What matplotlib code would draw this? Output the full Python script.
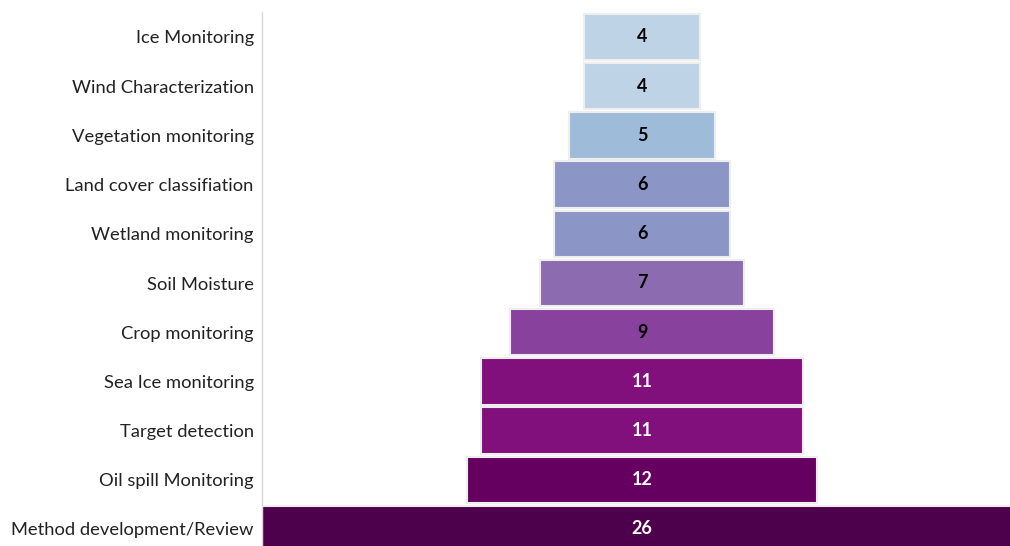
import numpy as np
import matplotlib.pyplot as plt

plt.rcParams['font.family'] = ['Lato', 'DejaVu Sans']

categories = ['Method development/Review', 'Oil spill Monitoring', 'Target detection',
              'Sea Ice monitoring', 'Crop monitoring', 'Soil Moisture',
              'Wetland monitoring', 'Land cover classifiation', 'Vegetation monitoring',
              'Wind Characterization', 'Ice Monitoring']
counts = [26, 12, 11, 11, 9, 7, 6, 6, 5, 4, 4]
colors = ['#4d004b', '#660060', '#810f7c', '#810f7c', '#88419d', '#8c6bb1',
          '#8c96c6', '#8c96c6', '#9ebcda', '#bfd3e6', '#bfd3e6']
text_colors = ['white', 'white', 'white', 'white', 'black', 'black',
               'black', 'black', 'black', 'black', 'black']

fig = plt.figure(figsize=(10.1, 5.46), dpi=100)
# axes runs a little past the right and bottom edge, like the cropped original
ax = fig.add_axes([262/1010, 1 - 553.6/546, 760/1010, 541.2/546])

y = np.arange(len(categories))
vals = np.array(counts)
ax.barh(y, vals, left=-vals/2, height=0.94, color=colors,
        edgecolor='#eeeeee', linewidth=1.5)

for yi, v, tc in zip(y, counts, text_colors):
    ax.text(0, yi, str(v), ha='center', va='center', color=tc,
            fontsize=13, fontweight='bold')

ax.set_xlim(-13, 13)
ax.set_ylim(-0.5, len(categories) - 0.5)
ax.set_yticks(y)
ax.set_yticklabels(categories, fontsize=13.2, color='#222222')
ax.tick_params(axis='y', length=0, pad=6)
ax.set_xticks([])
for side in ['top', 'right', 'bottom']:
    ax.spines[side].set_visible(False)
ax.spines['left'].set_color('#d9d9d9')
ax.spines['left'].set_linewidth(1)

fig.savefig('out.png', dpi=100)
